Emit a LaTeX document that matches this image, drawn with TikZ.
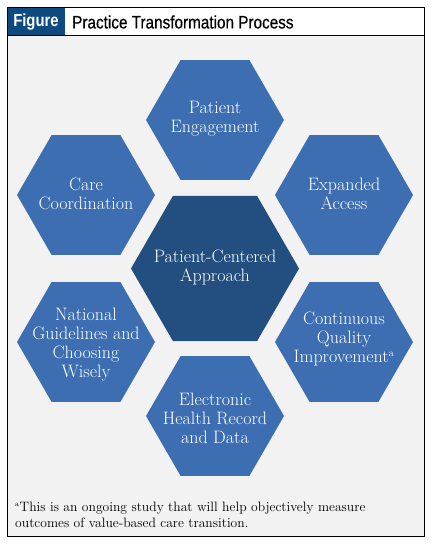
\documentclass[tikz,border=0pt]{standalone}
\usepackage{fontspec}
\newfontfamily\hdrfont[FakeStretch=0.85]{Liberation Sans}
\newfontfamily\titlefont[FakeStretch=0.85,FakeBold=0.5]{Liberation Sans}
\definecolor{hexblue}{RGB}{61,110,178}
\definecolor{hexdark}{RGB}{34,78,128}
\definecolor{figblue}{RGB}{12,74,128}
\definecolor{panelgray}{RGB}{242,242,242}
\newcommand\hexshape[4]{\fill[#4] (#1,#2) ++(0:#3) -- ++(120:#3) -- ++(180:#3) -- ++(240:#3) -- ++(300:#3) -- ++(0:#3) -- cycle;}
\begin{document}
\begin{tikzpicture}[x=1pt,y=-1pt,
  hextext/.style={text=white, align=center, font=\fontsize{18}{19}\selectfont, inner sep=0pt},
  hdrtext/.style={inner sep=0pt}]
\useasboundingbox (0,0) rectangle (434,545);
\fill[white] (0,0) rectangle (434,545);
\fill[panelgray] (7,36) rectangle (424,536);
\fill[figblue] (7,8) rectangle (65,36);
\draw[line width=1pt] (7,8) rectangle (424,536);
\draw[line width=1pt] (7,36) -- (424,36);
\node[hdrtext, text=white, font=\hdrfont\bfseries\fontsize{17.5}{20}\selectfont] (figlabel) at (36,22) {Figure};
\node[hdrtext, anchor=west, font=\titlefont\fontsize{18}{20}\selectfont] (title) at (72,22) {Practice Transformation Process};
% hexagons
\hexshape{215}{120}{69}{hexblue}
\hexshape{86}{195}{69}{hexblue}
\hexshape{344}{195}{69}{hexblue}
\hexshape{86}{342}{69}{hexblue}
\hexshape{344}{342}{69}{hexblue}
\hexshape{215}{416}{69}{hexblue}
\hexshape{215}{268.5}{84}{hexdark}
% texts
\node[hextext] (pe) at (215,119) {Patient\\Engagement};
\node[hextext] (cc) at (86,194) {Care\\Coordination};
\node[hextext] (ea) at (344,194) {Expanded\\Access};
\node[hextext] (pc) at (215,267.5) {Patient-Centered\\Approach};
\node[hextext] (ng) at (86,345) {National\\Guidelines and\\Choosing\\Wisely};
\node[hextext] (cq) at (344,339) {Continuous\\Quality\\Improvement\textsuperscript{\fontsize{10}{10}\selectfont a}};
\node[hextext] (ehr) at (215,418) {Electronic\\Health Record\\and Data};
% footnote
\node[anchor=west, align=left, inner sep=0pt, font=\fontsize{13.6}{16}\selectfont] (fn) at (15,515) {\textsuperscript{\fontsize{7.5}{7.5}\selectfont a}This is an ongoing study that will help objectively measure\\outcomes of value-based care transition.};
\end{tikzpicture}
\end{document}
